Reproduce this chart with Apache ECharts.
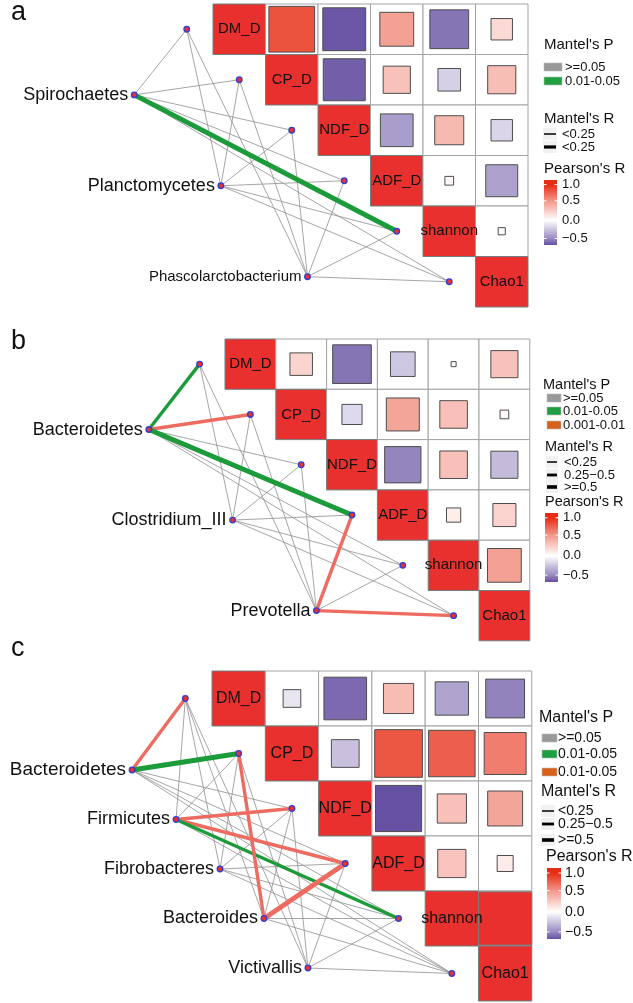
<!DOCTYPE html>
<html><head><meta charset="utf-8">
<script src="https://cdn.jsdelivr.net/npm/echarts@6/dist/echarts.min.js"></script>
<style>html,body{margin:0;padding:0;background:#fff}#chart{width:633px;height:1003px}</style>
</head><body><div id="chart"></div>
<script>
// ---------------- DATA ----------------
const envVars = ['DM_D','CP_D','NDF_D','ADF_D','shannon','Chao1'];

// Pearson's r between environment variables, upper triangle, row by row
const pearsonA = [0.82,-0.72,0.45,-0.59,0.18, -0.69,0.29,-0.2,0.31, -0.42,0.33,-0.18, 0.03,-0.4, 0.02];
const pearsonB = [0.2,-0.59,-0.24,0.01,0.29, -0.16,0.43,0.3,0.03, -0.52,0.3,-0.29, 0.08,0.21, 0.45];
const pearsonC = [-0.11,-0.64,0.32,-0.39,-0.53, -0.27,0.8,0.76,0.62, -0.75,0.3,0.43, 0.28,0.09, 1.0];

const speciesA = ['Spirochaetes','Planctomycetes','Phascolarctobacterium'];
const speciesB = ['Bacteroidetes','Clostridium_III','Prevotella'];
const speciesC = ['Bacteroidetes','Firmicutes','Fibrobacteres','Bacteroides','Victivallis'];

// Mantel's P class per species x env var (0: >=0.05, 1: 0.01-0.05, 2: 0.001-0.01)
const mantelPA = [[0,0,0,0,1,0],[0,0,0,0,0,0],[0,0,0,0,0,0]];
const mantelPB = [[1,2,0,1,0,0],[0,0,0,0,0,0],[0,0,0,2,0,2]];
const mantelPC = [[2,1,0,0,0,0],[0,0,2,2,1,0],[0,0,0,0,0,0],[0,2,0,2,0,0],[0,0,0,0,0,0]];
// Mantel's R class per species x env var (0: <0.25, 1: 0.25-0.5, 2: >=0.5)
const mantelRA = [[0,0,0,0,2,0],[0,0,0,0,0,0],[0,0,0,0,0,0]];
const mantelRB = [[1,1,0,2,0,0],[0,0,0,0,0,0],[0,0,0,1,0,1]];
const mantelRC = [[1,2,0,0,0,0],[0,0,1,1,1,0],[0,0,0,0,0,0],[0,1,0,2,0,0],[0,0,0,0,0,0]];

const legendPA = ['>=0.05','0.01-0.05'];
const legendPB = ['>=0.05','0.01-0.05','0.001-0.01'];
const legendPC = ['>=0.05','0.01-0.05','0.01-0.05'];
const legendRA = ['<0.25','<0.25'];
const legendRB = ['<0.25','0.25\u22120.5','>=0.5'];
const legendRC = ['<0.25','0.25\u22120.5','>=0.5'];
const pearsonTicks = ['1.0','0.5','0.0','\u22120.5'];

// ---------------- STYLE ----------------
const FONT = '"Liberation Sans", Arial, sans-serif';
const POS = [230,45,20], NEG = [91,68,155];
const pColors = ['#8f8f8f','#1b9b3a','#ee6b62'];
const pKeyColors = ['#999999','#1f9f3f','#d9601c'];
const rWidths = [0.8, 3.4, 5];

function mix(c, t){ return 'rgb(' + c.map(v => Math.round(255 + (v-255)*t)).join(',') + ')'; }
function corrColor(v){
  if (v >= 0) return mix(POS, Math.min(1, v));
  return mix(NEG, Math.min(1, -v/0.8));
}

const panels = [
  {letter:'a', corr:pearsonA, species:speciesA, mp:mantelPA, mr:mantelRA, lp:legendPA, lr:legendRA,
   grid:{left:29.25, top:4, width:498.75, height:303}, letterY:14,
   labelFont:[18,18,15], diagFont:15,
   lg:{titleX:544, titleCX:544, keyX:544, keyW:18, textX:565, lineW:12, lineTextX:562,
       tP:45, pY:[67,81], tR:119, rY:[134,147], rW:[1.5,3.2], tC:169, barX:544, barW:13, barTop:180, barBot:245, tickX:562,
       titleFont:15, itemFont:13, tickFont:13}},
  {letter:'b', corr:pearsonB, species:speciesB, mp:mantelPB, mr:mantelRB, lp:legendPB, lr:legendRB,
   grid:{left:47.2, top:339, width:482.6, height:301.8}, letterY:343,
   labelFont:[18,18,18], diagFont:15,
   lg:{titleX:543, titleCX:545, keyX:547, keyW:14, textX:563, lineW:10, lineTextX:564,
       tP:385, pY:[398,411,425], tR:447, rY:[462,475,487], rW:[1.5,2.8,3.6], tC:502, barX:545, barW:13, barTop:513, barBot:582, tickX:563,
       titleFont:14.5, itemFont:13, tickFont:13}},
  {letter:'c', corr:pearsonC, species:speciesC, mp:mantelPC, mr:mantelRC, lp:legendPC, lr:legendRC,
   grid:{left:25.45, top:671, width:506.35, height:330}, letterY:650,
   labelFont:[19,18,18,18,18], diagFont:16,
   lg:{titleX:539, titleCX:546, keyX:542, keyW:15, textX:558, lineW:12, lineTextX:558,
       tP:718, pY:[738,754,772], tR:792, rY:[811,824,840], rW:[1.5,2.8,3.6], tC:857, barX:547, barW:14, barTop:868, barBot:939, tickX:565,
       titleFont:16, itemFont:14, tickFont:14}}
];

// species node layout (axis units), env node layout
function speciesPos(k, n){ return [-1.5 + 3.3*k/(n-1), 1.8 + 3.6*k/(n-1)]; }
function envPos(i){ return [i - 0.5, i + 0.5]; }

const grids = [], xAxes = [], yAxes = [], series = [], graphics = [];

panels.forEach((P, pi) => {
  grids.push(Object.assign({containLabel:false}, P.grid));
  xAxes.push({type:'value', gridIndex:pi, min:-3.5, max:6, show:false});
  yAxes.push({type:'value', gridIndex:pi, min:0, max:6, inverse:true, show:false});

  // heat cells
  const cells = []; let k = 0;
  for (let i = 0; i < envVars.length; i++) {
    for (let j = i; j < envVars.length; j++) {
      if (i === j) cells.push([j, i, 1, 1]);
      else cells.push([j, i, P.corr[k++], 0]);
    }
  }
  series.push({
    type:'custom', xAxisIndex:pi, yAxisIndex:pi, z:1, silent:true, data:cells,
    renderItem:(params, api) => {
      const c = api.value(0), r = api.value(1), v = api.value(2), diag = api.value(3);
      const p0 = api.coord([c, r]), p1 = api.coord([c+1, r+1]);
      const w = p1[0]-p0[0], h = p1[1]-p0[1];
      const ch = [{type:'rect', shape:{x:p0[0], y:p0[1], width:w, height:h},
        style:{fill: diag ? '#e8312f' : '#ffffff', stroke: diag ? '#6f8080' : '#a3a3a3', lineWidth:1}}];
      if (diag) {
        ch.push({type:'text', z2:5, style:{text:envVars[r], x:p0[0]+w/2, y:p0[1]+h/2, align:'center', verticalAlign:'middle',
          fontSize:P.diagFont, fontFamily:FONT, fill:'#111'}});
      } else {
        const s = Math.min(w, h) * Math.sqrt(Math.abs(v));
        ch.push({type:'rect', shape:{x:p0[0]+w/2-s/2, y:p0[1]+h/2-s/2, width:s, height:s},
          style:{fill: v >= 0.97 ? '#e8312f' : corrColor(v), stroke: v >= 0.97 ? '#6f8080' : '#4d4d4d', lineWidth:1}});
      }
      return {type:'group', children:ch};
    }
  });

  // edges
  const edges = [];
  P.species.forEach((sp, si) => {
    const a = speciesPos(si, P.species.length);
    envVars.forEach((ev, ei) => {
      const b = envPos(ei);
      edges.push([a[0], a[1], b[0], b[1], P.mp[si][ei], P.mr[si][ei]]);
    });
  });
  edges.sort((e1, e2) => (e1[4] > 0) - (e2[4] > 0));
  series.push({
    type:'custom', xAxisIndex:pi, yAxisIndex:pi, z:2, silent:true, data:edges,
    renderItem:(params, api) => {
      const a = api.coord([api.value(0), api.value(1)]);
      const b = api.coord([api.value(2), api.value(3)]);
      const p = api.value(4), r = api.value(5);
      return {type:'line', shape:{x1:a[0], y1:a[1], x2:b[0], y2:b[1]},
        style:{stroke:pColors[p], lineWidth: p > 0 ? rWidths[Math.max(1, r)] : rWidths[0]}};
    }
  });

  // nodes
  const nodes = [];
  P.species.forEach((sp, si) => { const a = speciesPos(si, P.species.length); nodes.push([a[0], a[1], si]); });
  envVars.forEach((ev, ei) => { const b = envPos(ei); nodes.push([b[0], b[1], -1]); });
  series.push({
    type:'custom', xAxisIndex:pi, yAxisIndex:pi, z:3, silent:true, data:nodes,
    renderItem:(params, api) => {
      const pt = api.coord([api.value(0), api.value(1)]);
      const li = api.value(2);
      const ch = [{type:'circle', shape:{cx:pt[0], cy:pt[1], r:2.8}, style:{fill:'#e8302c', stroke:'#2f3fd8', lineWidth:1.3}}];
      if (li >= 0) {
        ch.push({type:'text', style:{text:P.species[li], x:pt[0]-6, y:pt[1], align:'right', verticalAlign:'middle',
          fontSize:P.labelFont[li], fontFamily:FONT, fill:'#111'}});
      }
      return {type:'group', children:ch};
    }
  });

  // panel letter
  graphics.push({type:'text', left:11, top:P.letterY - 15, style:{text:P.letter, fontSize:27, fontFamily:FONT, fill:'#111'}});

  // legend
  const L = P.lg;
  const txt = (t, x, y, fs) => ({type:'text', x:x, y:y, style:{text:t, fontSize:fs, fontFamily:FONT, fill:'#111', verticalAlign:'middle', align:'left'}});
  graphics.push(txt("Mantel's P", L.titleX, L.tP, L.titleFont));
  P.lp.forEach((t, i) => {
    graphics.push({type:'rect', shape:{x:L.keyX, y:L.pY[i]-4, width:L.keyW, height:8},
      style:{fill:pKeyColors[i], stroke:'#bdbdbd', lineWidth:0.6}});
    graphics.push(txt(t, L.textX, L.pY[i], L.itemFont));
  });
  graphics.push(txt("Mantel's R", L.titleX + (pi === 0 ? 0 : 2), L.tR, L.titleFont));
  P.lr.forEach((t, i) => {
    graphics.push({type:'rect', shape:{x:L.keyX-1, y:L.rY[i]-6, width:L.lineW+2, height:12}, style:{fill:'#f1f1f1'}});
    graphics.push({type:'line', shape:{x1:L.keyX, y1:L.rY[i], x2:L.keyX+L.lineW, y2:L.rY[i]},
      style:{stroke:'#000', lineWidth:L.rW[i]}});
    graphics.push(txt(t, L.lineTextX, L.rY[i], L.itemFont));
  });
  graphics.push(txt("Pearson's R", L.titleCX, L.tC, L.titleFont));
  const fr = [0.07, 0.32, 0.62, 0.9];
  const tickVals = [1.0, 0.5, 0.0, -0.5];
  const stops = [{offset:0, color:corrColor(1.0)}];
  fr.forEach((f, i) => stops.push({offset:f, color:corrColor(tickVals[i])}));
  stops.push({offset:1, color:corrColor(-0.75)});
  const bh = L.barBot - L.barTop;
  graphics.push({type:'rect', shape:{x:L.barX, y:L.barTop, width:L.barW, height:bh},
    style:{fill:new echarts.graphic.LinearGradient(0,0,0,1,stops)}});
  fr.forEach((f, i) => {
    const y = L.barTop + f*bh;
    graphics.push({type:'line', shape:{x1:L.barX, y1:y, x2:L.barX+2.5, y2:y}, style:{stroke:'#fff', lineWidth:1}});
    graphics.push({type:'line', shape:{x1:L.barX+L.barW-2.5, y1:y, x2:L.barX+L.barW, y2:y}, style:{stroke:'#fff', lineWidth:1}});
    graphics.push(txt(pearsonTicks[i], L.tickX, y, L.tickFont));
  });
});

const chart = echarts.init(document.getElementById('chart'), null, {renderer:'canvas', width:633, height:1003});
chart.setOption({
  animation:false,
  backgroundColor:'#ffffff',
  grid:grids, xAxis:xAxes, yAxis:yAxes, series:series,
  graphic:{elements:graphics}
});
</script></body></html>
